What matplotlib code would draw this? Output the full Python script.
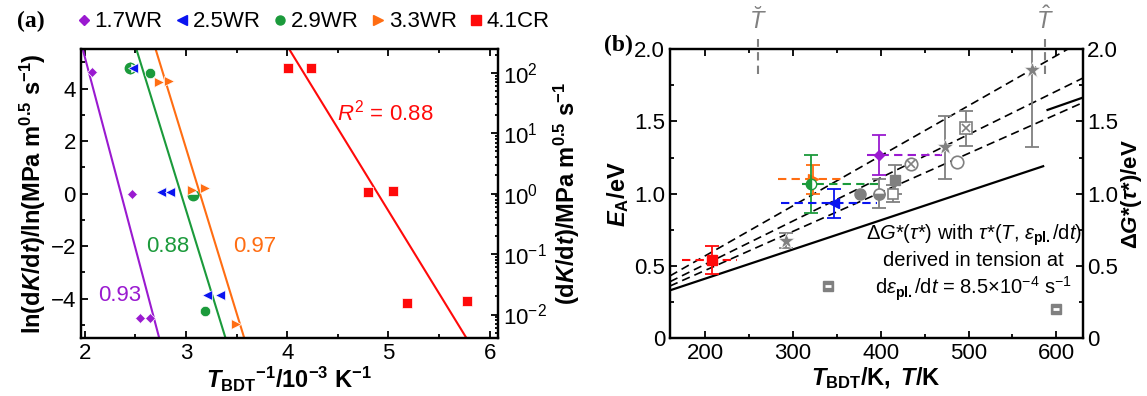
import numpy as np
import matplotlib as mpl
import matplotlib.pyplot as plt
from matplotlib.lines import Line2D

plt.rcParams['font.family'] = ['Liberation Sans', 'DejaVu Sans']
plt.rcParams['font.size'] = 12
plt.rcParams['axes.linewidth'] = 1.6
plt.rcParams['mathtext.fontset'] = 'custom'
plt.rcParams['mathtext.rm'] = 'Liberation Sans'
plt.rcParams['mathtext.it'] = 'Liberation Sans:italic'
plt.rcParams['mathtext.bf'] = 'Liberation Sans:bold'
plt.rcParams['mathtext.bfit'] = 'Liberation Sans:bold:italic'

# ---- panel (a): ln(dK/dt) vs 1/T_BDT ----
purple_x = [2.07, 2.47, 2.55, 2.64]
purple_y = [4.63, 0.0, -4.75, -4.75]
blue_x = [2.48, 2.75, 2.84, 3.21, 3.34]
blue_y = [4.8, 0.08, 0.08, -3.86, -3.86]
green_x = [2.64, 3.19]
green_y = [4.6, -4.46]
green_half_x = [2.45, 3.07]
green_half_y = [4.8, -0.05]
orange_x = [2.73, 2.83, 3.06, 3.19, 3.49]
orange_y = [4.25, 4.3, 0.14, 0.2, -4.96]
red_x = [4.01, 4.23, 4.80, 5.04, 5.18, 5.78]
red_y = [4.8, 4.8, 0.05, 0.09, -4.15, -4.10]

# fit lines: x at ln = 5.5 and ln = -5.5
fit_y = [5.5, -5.5]
fit_purple = [1.98, 2.735]
fit_green = [2.51, 3.39]
fit_orange = [2.70, 3.575]
fit_red = [4.02, 5.77]

labels_a = ['1.7WR', '2.5WR', '2.9WR', '3.3WR', '4.1CR']

# ---- panel (b): E_A vs T ----
col_T = [208, 323, 321, 347, 398]
col_E = [0.54, 1.10, 1.066, 0.934, 1.268]
col_xlo = [174, 283, 310, 286, 384]
col_xhi = [236, 357, 397, 396, 470]
col_yerr = [0.10, 0.10, 0.20, 0.10, 0.14]

star_T = [292, 473, 572]
star_E = [0.675, 1.32, 1.855]
star_err = [0.055, 0.22, 0.53]
fcirc_T, fcirc_E = [376], [1.0]
hcirc_T, hcirc_E, hcirc_err = [398], [1.0], [0.10]
osq_T, osq_E, osq_err = [414], [1.0], [0.06]
fsq_T, fsq_E, fsq_err = [416], [1.096], [0.10]
xcirc_T, xcirc_E = [434], [1.204]
ocirc_T, ocirc_E = [487], [1.218]
xsq_T, xsq_E, xsq_err = [497], [1.453], [0.12]
bsq_T, bsq_E = [340, 600], [0.36, 0.20]

dash_T = [160, 630]
dash_E = [[0.43, 2.06], [0.39, 1.80], [0.36, 1.63]]
solid_T = [[160, 585], [590, 630]]
solid_E = [[0.33, 1.19], [1.58, 1.665]]
mark_T = [260, 587]

c_purple = '#9a1ad0'
c_blue = '#0a14f0'
c_green = '#1b9a3b'
c_orange = '#ff6d12'
c_red = '#ff0a0a'
c_gray = '#808080'

TICK = 16
LAB = 17

fig = plt.figure(figsize=(11.47, 3.96), dpi=100)
axa = fig.add_axes([0.0704, 0.1465, 0.3636, 0.729])
axb = fig.add_axes([0.5841, 0.1465, 0.3598, 0.729])

ms = 6.5
axa.plot(fit_purple, fit_y, color=c_purple, lw=1.5)
axa.plot(fit_green, fit_y, color=c_green, lw=1.5)
axa.plot(fit_orange, fit_y, color=c_orange, lw=1.5)
axa.plot(fit_red, fit_y, color=c_red, lw=1.5)
axa.plot(purple_x, purple_y, 'D', color=c_purple, ms=5.5, mec='white', mew=0.5)
axa.plot(green_x, green_y, 'o', color=c_green, ms=ms+1, mec='white', mew=0.5)
axa.plot(green_half_x[:1], green_half_y[:1], 'o', color=c_green, ms=ms+1, fillstyle='left',
         markerfacecoloralt='white', mec=c_green, mew=1.0)
axa.plot(green_half_x[1:], green_half_y[1:], 'o', color=c_green, ms=ms+1, fillstyle='bottom',
         markerfacecoloralt='white', mec=c_green, mew=1.0)
axa.plot(blue_x, blue_y, '<', color=c_blue, ms=ms+1, mec='white', mew=0.5)
axa.plot(orange_x, orange_y, '>', color=c_orange, ms=ms+1, mec='white', mew=0.5)
axa.plot(red_x, red_y, 's', color=c_red, ms=ms+0.5, mec='white', mew=0.5)

axa.text(2.34, -3.9, '0.93', color=c_purple, fontsize=16, ha='center', va='center')
axa.text(2.82, -2.0, '0.88', color=c_green, fontsize=16, ha='center', va='center')
axa.text(3.68, -2.0, '0.97', color=c_orange, fontsize=16, ha='center', va='center')
axa.text(4.97, 3.1, '$R^2$ = 0.88', color=c_red, fontsize=16, ha='center', va='center')

axa.set_xlim(1.96, 6.08)
axa.set_ylim(-5.5, 5.5)
axa.xaxis.set_major_locator(mpl.ticker.MultipleLocator(1))
axa.xaxis.set_minor_locator(mpl.ticker.MultipleLocator(0.5))
axa.yaxis.set_major_locator(mpl.ticker.MultipleLocator(2))
axa.yaxis.set_minor_locator(mpl.ticker.MultipleLocator(1))
axa.yaxis.set_major_formatter(mpl.ticker.FuncFormatter(lambda v, p: '%d' % v if v >= 0 else '\u2212%d' % -v))
axa.tick_params(which='both', direction='in', top=True, width=1.3, labelsize=TICK)
axa.tick_params(which='major', length=5)
axa.tick_params(which='minor', length=3)
axa.tick_params(axis='y', right=False)
axa.set_xlabel(r'$\mathbfit{T}_{\mathbf{BDT}}\mathbf{^{-1}/10^{-3}\ K^{-1}}$', fontsize=LAB, labelpad=1)
axa.set_ylabel(r'$\mathbf{ln(d}\mathbfit{K}\mathbf{/d}\mathbfit{t}\mathbf{)/ln(MPa\ m^{0.5}\ s^{-1})}$',
               fontsize=LAB, labelpad=2)

axr = axa.twinx()
axr.set_yscale('log')
axr.set_ylim(np.exp(-5.5), np.exp(5.5))
axr.set_yticks([1e-2, 1e-1, 1e0, 1e1, 1e2])
axr.yaxis.set_minor_locator(mpl.ticker.LogLocator(base=10, subs=np.arange(2, 10)))
axr.yaxis.set_minor_formatter(mpl.ticker.NullFormatter())
axr.tick_params(which='both', direction='in', width=1.3, labelsize=TICK)
axr.tick_params(which='major', length=5)
axr.tick_params(which='minor', length=2.5)
axr.set_ylabel(r'$\mathbf{(d}\mathbfit{K}\mathbf{/d}\mathbfit{t}\mathbf{)/MPa\ m^{0.5}\ s^{-1}}$',
               fontsize=LAB, labelpad=4)

handles = [Line2D([], [], ls='', marker='D', color=c_purple, ms=5.5),
           Line2D([], [], ls='', marker='<', color=c_blue, ms=ms),
           Line2D([], [], ls='', marker='o', color=c_green, ms=ms),
           Line2D([], [], ls='', marker='>', color=c_orange, ms=ms),
           Line2D([], [], ls='', marker='s', color=c_red, ms=ms)]
fig.legend(handles, labels_a, loc='center left', bbox_to_anchor=(0.068, 0.945), ncol=5,
           frameon=False, fontsize=16, handlelength=0.5, handletextpad=0.25, columnspacing=0.6,
           borderaxespad=0, borderpad=0)
fig.text(0.015, 0.945, '(a)', fontsize=17, fontweight='bold', family='Liberation Serif', va='center')
fig.text(0.527, 0.886, '(b)', fontsize=17, fontweight='bold', family='Liberation Serif', va='center')

# panel (b)
for E in dash_E:
    axb.plot(dash_T, E, color='black', lw=1.2, ls=(0, (5, 3)))
for T, E in zip(solid_T, solid_E):
    axb.plot(T, E, color='black', lw=1.6)

cols = [c_red, c_orange, c_green, c_blue, c_purple]
marks = ['s', '>', 'o', '<', 'D']
for T, E, lo, hi, ye, c, m in zip(col_T, col_E, col_xlo, col_xhi, col_yerr, cols, marks):
    axb.hlines(E, lo, hi, colors=c, linestyles=(0, (4, 2.5)), lw=1.5)
    axb.errorbar([T], [E], yerr=[ye], fmt='none', ecolor=c, elinewidth=1.3, capsize=5, capthick=1.3)
    if m == 'o':
        axb.plot([T], [E], m, color=c, ms=ms+1, fillstyle='left', markerfacecoloralt='white', mec=c)
    else:
        axb.plot([T], [E], m, color=c, ms=ms if m != 'D' else 5.5)

ekw = dict(fmt='none', ecolor=c_gray, elinewidth=1.3, capsize=5, capthick=1.3)
axb.errorbar(star_T, star_E, yerr=star_err, **ekw)
axb.errorbar(hcirc_T, hcirc_E, yerr=hcirc_err, **ekw)
axb.errorbar(osq_T, osq_E, yerr=osq_err, **ekw)
axb.errorbar(fsq_T, fsq_E, yerr=fsq_err, **ekw)
axb.errorbar(xsq_T, xsq_E, yerr=xsq_err, **ekw)
axb.plot(star_T, star_E, '*', color=c_gray, ms=12, mec='white', mew=0.4)
axb.plot(fcirc_T, fcirc_E, 'o', color=c_gray, ms=8)
axb.plot(hcirc_T, hcirc_E, 'o', color=c_gray, ms=8, fillstyle='bottom', markerfacecoloralt='white', mew=1.2)
axb.plot(osq_T, osq_E, 's', mfc='white', mec=c_gray, ms=7, mew=1.2)
axb.plot(fsq_T, fsq_E, 's', color=c_gray, ms=7)
axb.plot(xcirc_T, xcirc_E, 'o', mfc='white', mec=c_gray, ms=9, mew=1.2)
axb.plot(xcirc_T, xcirc_E, 'x', color=c_gray, ms=6, mew=1.2)
axb.plot(ocirc_T, ocirc_E, 'o', mfc='white', mec=c_gray, ms=9, mew=1.2)
axb.plot(xsq_T, xsq_E, 's', mfc='white', mec=c_gray, ms=8, mew=1.2)
axb.plot(xsq_T, xsq_E, 'x', color=c_gray, ms=5.5, mew=1.2)
axb.plot(bsq_T, bsq_E, 's', color=c_gray, ms=7.5)
axb.plot(bsq_T, bsq_E, '_', color='white', ms=5, mew=2)

for T, lab in zip(mark_T, [r'$\breve{T}$', r'$\hat{T}$']):
    axb.plot([T, T], [1.83, 2.07], color=c_gray, lw=1.5, ls=(0, (4, 2.5)), clip_on=False)
    axb.text(T, 2.2, lab, color=c_gray, fontsize=17, ha='center', va='center')

axb.text(506, 0.52, r'$\Delta G$*($\tau$*) with $\tau$*($T$, $\varepsilon_{\mathbf{pl.}}$/d$t$)'
         '\nderived in tension at\n'
         r'd$\varepsilon_{\mathbf{pl.}}$/d$t$ = 8.5$\times$10$^{-4}$ s$^{-1}$',
         fontsize=14.5, ha='center', va='center', linespacing=1.2)

axb.set_xlim(160, 630)
axb.set_ylim(0, 2.0)
axb.xaxis.set_major_locator(mpl.ticker.MultipleLocator(100))
axb.xaxis.set_minor_locator(mpl.ticker.MultipleLocator(50))
axb.yaxis.set_major_locator(mpl.ticker.MultipleLocator(0.5))
axb.yaxis.set_minor_locator(mpl.ticker.MultipleLocator(0.25))
fmt_b = mpl.ticker.FuncFormatter(lambda v, p: '0' if v == 0 else '%.1f' % v)
axb.yaxis.set_major_formatter(fmt_b)
axb.tick_params(which='both', direction='in', top=True, width=1.3, labelsize=TICK)
axb.tick_params(which='major', length=5)
axb.tick_params(which='minor', length=3)
axb.set_xlabel(r'$\mathbfit{T}_{\mathbf{BDT}}\mathbf{/K,\ }\mathbfit{T}\mathbf{/K}$', fontsize=LAB, labelpad=1)
axb.set_ylabel(r'$\mathbfit{E}_{\mathbf{A}}\mathbf{/eV}$', fontsize=LAB, labelpad=2)

axb2 = axb.twinx()
axb2.set_ylim(0, 2.0)
axb2.yaxis.set_major_locator(mpl.ticker.MultipleLocator(0.5))
axb2.yaxis.set_minor_locator(mpl.ticker.MultipleLocator(0.25))
axb2.yaxis.set_major_formatter(fmt_b)
axb2.tick_params(which='both', direction='in', width=1.3, labelsize=TICK, pad=3)
axb2.tick_params(which='major', length=5)
axb2.tick_params(which='minor', length=3)
axb2.set_ylabel(r'$\mathbf{\Delta}\mathbfit{G}\mathbf{*(}\mathbfit{\tau}\mathbf{*)/eV}$', fontsize=16, labelpad=1)

fig.savefig('out.png', dpi=100)
